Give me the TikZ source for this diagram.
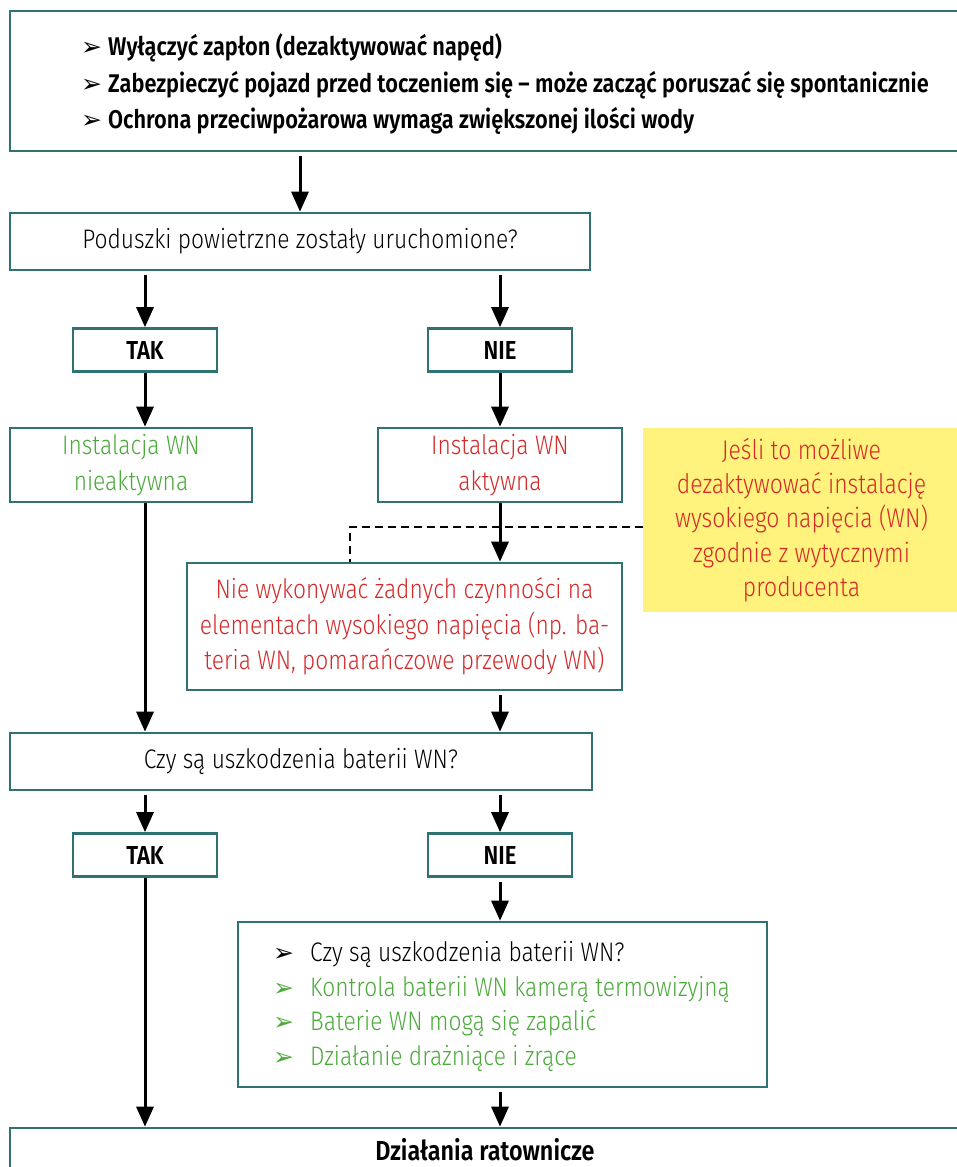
\documentclass[tikz,border=0pt]{standalone}
\usepackage{fontspec}
\setmainfont{Fira Sans}[UprightFont={* Light}, BoldFont={* SemiBold}, FakeStretch=0.85]
\newfontfamily\symfont{DejaVu Sans}
\usetikzlibrary{arrows.meta}

\definecolor{boxteal}{HTML}{2E7371}
\definecolor{okgreen}{HTML}{4CAA3C}
\definecolor{warnred}{HTML}{D42A2A}
\definecolor{noteyellow}{HTML}{FFF27D}

% bullet arrowhead used in the lists; the argument is the room it takes
\newcommand{\bul}[1]{\makebox[#1][l]{\symfont\fontsize{25}{25}\selectfont ➢}}

\begin{document}
\begin{tikzpicture}[x=1pt,y=-1pt,
  box/.style={draw=boxteal, line width=2.6pt, fill=white, inner sep=0pt, align=center,
    font=\fontsize{26.8}{35.5}\selectfont},
  answer/.style={box, font=\fontsize{26}{28}\selectfont\bfseries, minimum width=144pt, minimum height=43pt},
  note/.style={fill=noteyellow, inner sep=0pt, align=center, text=warnred,
    font=\fontsize{27}{34.3}\selectfont},
  arr/.style={line width=3pt, -{Triangle[length=20pt,width=17pt]}},
  gap/.style={shorten <=4pt},
  dashline/.style={line width=2.5pt, dash pattern=on 8pt off 5pt}
]
\useasboundingbox (0,0) rectangle (956,1167);

% header with general instructions
\node[box, minimum width=952pt, minimum height=140pt] (top) at (486,81) {};
\node[anchor=west, align=left, inner sep=0pt, font=\fontsize{25.6}{36.5}\selectfont\bfseries] (toptext) at (81,84.5)
  {\bul{27pt}Wyłączyć zapłon (dezaktywować napęd)\\
   \bul{27pt}Zabezpieczyć pojazd przed toczeniem się – może zacząć poruszać się spontanicznie\\
   \bul{27pt}Ochrona przeciwpożarowa wymaga zwiększonej ilości wody};

% airbag question
\node[box, minimum width=580pt, minimum height=57pt] (q1) at (300,241.5) {Poduszki powietrzne zostały uruchomione?};
\node[answer] (tak1) at (145,350) {TAK};
\node[answer] (nie1) at (500,350) {NIE};

\node[box, minimum width=242pt, minimum height=74pt, text=okgreen] (ina) at (131,465) {Instalacja WN\\nieaktywna};
\node[box, minimum width=244pt, minimum height=74pt, text=warnred] (akt) at (500,465) {Instalacja WN\\aktywna};
\node[note, minimum width=317pt, minimum height=184pt] (yellow) at (801.5,520)
  {Jeśli to możliwe\\dezaktywować instalację\\wysokiego napięcia (WN)\\zgodnie z wytycznymi\\producenta};

\node[box, minimum width=435pt, minimum height=127pt, text=warnred] (nowork) at (404.5,626.5)
  {Nie wykonywać żadnych czynności na\\elementach wysokiego napięcia (np. ba-\\teria WN, pomarańczowe przewody WN)};

% battery question
\node[box, minimum width=582pt, minimum height=57pt] (q2) at (301,761.5) {Czy są uszkodzenia baterii WN?};
\node[answer] (tak2) at (145,855) {TAK};
\node[answer] (nie2) at (500,855) {NIE};

\node[box, minimum width=529pt, minimum height=165pt] (bl) at (502.5,1004.5) {};
\node[anchor=west, align=left, inner sep=0pt, font=\fontsize{26.8}{34.5}\selectfont] (bltext) at (273,1006.5)
  {\bul{37pt}Czy są uszkodzenia baterii WN?\\
   \textcolor{okgreen}{\bul{37pt}Kontrola baterii WN kamerą termowizyjną}\\
   \textcolor{okgreen}{\bul{37pt}Baterie WN mogą się zapalić}\\
   \textcolor{okgreen}{\bul{37pt}Działanie drażniące i żrące}};

% rescue actions
\node[box, minimum width=952pt, minimum height=72pt] (fin) at (486,1164) {};
\node[inner sep=0pt, font=\fontsize{27.5}{30}\selectfont\bfseries] (fintext) at (485,1150) {Działania ratownicze};

% connectors
\draw[arr, gap] (top.south -| q1.north) -- (q1.north);
\draw[arr, gap] (q1.south -| tak1.north) -- (tak1.north);
\draw[arr, gap] (q1.south -| nie1.north) -- (nie1.north);
\draw[arr] (tak1.south) -- (tak1.south |- ina.north);
\draw[arr] (nie1.south) -- (akt.north);
\draw[arr] (akt.south) -- (akt.south |- nowork.north);
\coordinate (dcorner) at (350,527);
\draw[dashline] (yellow.west |- dcorner) -- (dcorner) -- (dcorner |- nowork.north);
\draw[arr] (tak1.south |- ina.south) -- (tak1.south |- q2.north);
\draw[arr, gap] (akt.south |- nowork.south) -- (akt.south |- q2.north);
\draw[arr, gap] (q2.south -| tak2.north) -- (tak2.north);
\draw[arr, gap] (q2.south -| nie2.north) -- (nie2.north);
\draw[arr] (tak2.south) -- (tak2.south |- fin.north);
\draw[arr, gap] (nie2.south) -- (nie2.south |- bl.north);
\draw[arr, gap] (nie2.south |- bl.south) -- (nie2.south |- fin.north);
\end{tikzpicture}
\end{document}
